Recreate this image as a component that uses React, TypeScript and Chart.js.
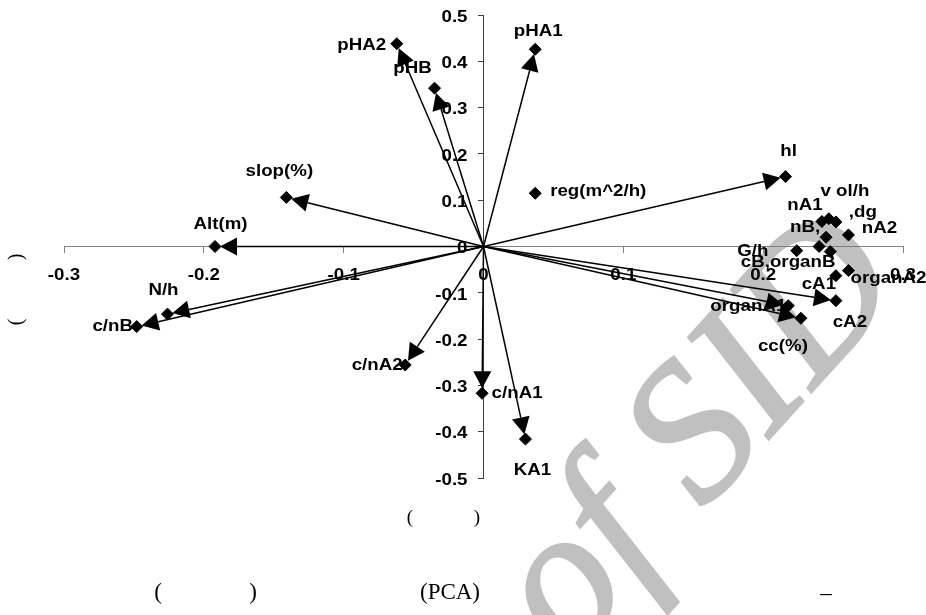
import React, { useEffect, useRef } from "react";
import { Chart, registerables } from "chart.js";

Chart.register(...registerables);

// Variable names (labels as printed) and their loadings on the two components
const varNames = [
  "pHA2", "pHB", "pHA1", "reg(m^2/h)", "hl", "slop(%)", "Alt(m)", "N/h", "c/nB",
  "c/nA2", "c/nA1", "KA1", "cA2", "cc(%)", "organA1", "cA1", "organA2", "nA2",
  ",dg", "v ol/h", "nA1", "nB,", "G/h", "cB,organB", "",
];
const pc1 = [
  -0.062, -0.035, 0.037, 0.037, 0.216, -0.141, -0.192, -0.226, -0.248,
  -0.056, -0.001, 0.030, 0.252, 0.227, 0.218, 0.252, 0.261, 0.261,
  0.252, 0.247, 0.242, 0.245, 0.224, 0.240, 0.248,
];
const pc2 = [
  0.438, 0.342, 0.426, 0.115, 0.151, 0.106, 0.0, -0.146, -0.173,
  -0.256, -0.317, -0.416, -0.117, -0.155, -0.128, -0.063, -0.052, 0.025,
  0.053, 0.060, 0.054, 0.020, -0.009, 0.0, -0.011,
];
const hasArrow = [
  true, true, true, false, true, true, true, true, true,
  true, true, true, true, true, true, false, false, false,
  false, false, false, false, false, false, false,
];
const xTicks = [-0.3, -0.2, -0.1, 0, 0.1, 0.2, 0.3];
const yTicks = [-0.5, -0.4, -0.3, -0.2, -0.1, 0, 0.1, 0.2, 0.3, 0.4, 0.5];

// label placement (pixel offsets of label centre from its point)
const labelOffsets: [number, number][] = [
  [-35, 1], [-22, -21], [3, -19], [63, -3], [3, -26], [-7, -27], [5.5, -23.5], [-4, -25], [-24, -1],
  [-28, -1], [35, -1], [7, 30], [14, 21], [-18, 27], [-40, 0], [-17, 8], [40, 7], [31, -7.5],
  [27, -11], [16, -28], [-17, -17], [-21, -11], [-44, 0], [-31, 15], [0, 0],
];

const SANS = '"Liberation Sans", Arial, sans-serif';
const SERIF = '"Liberation Serif", "Times New Roman", serif';
const STRETCH = 1.17;
const HALF_CAP = 5.7;

function drawStretched(ctx: CanvasRenderingContext2D, text: string, x: number, y: number, align: CanvasTextAlign) {
  ctx.save();
  ctx.translate(x, y);
  ctx.scale(STRETCH, 1);
  ctx.textAlign = align;
  ctx.textBaseline = "alphabetic";
  ctx.fillText(text, 0, 0);
  ctx.restore();
}

const backgroundPlugin = {
  id: "bgWatermark",
  beforeDraw(chart: any) {
    const ctx: CanvasRenderingContext2D = chart.ctx;
    ctx.save();
    ctx.fillStyle = "#ffffff";
    ctx.fillRect(0, 0, chart.width, chart.height);
    ctx.translate(570, 660);
    ctx.rotate((-48 * Math.PI) / 180);
    ctx.font = `italic 195px ${SERIF}`;
    ctx.fillStyle = "#c0c0c0";
    ctx.strokeStyle = "#c0c0c0";
    ctx.lineWidth = 3;
    ctx.textAlign = "left";
    ctx.textBaseline = "alphabetic";
    ctx.fillText("of SID", 0, 0);
    ctx.strokeText("of SID", 0, 0);
    ctx.restore();
  },
};

const arrowPlugin = {
  id: "arrows",
  beforeDatasetsDraw(chart: any) {
    const ctx: CanvasRenderingContext2D = chart.ctx;
    const xs = chart.scales.x;
    const ys = chart.scales.y;
    const ox = xs.getPixelForValue(0);
    const oy = ys.getPixelForValue(0);
    ctx.save();
    ctx.strokeStyle = "#000";
    ctx.fillStyle = "#000";
    ctx.lineWidth = 1.5;
    pc1.forEach((v, i) => {
      if (!hasArrow[i]) return;
      const px = xs.getPixelForValue(v);
      const py = ys.getPixelForValue(pc2[i]);
      const dx = px - ox;
      const dy = py - oy;
      const L = Math.hypot(dx, dy);
      const ux = dx / L;
      const uy = dy / L;
      const tx = px - ux * 5;
      const ty = py - uy * 5;
      const bx = tx - ux * 17;
      const by = ty - uy * 17;
      ctx.beginPath();
      ctx.moveTo(ox, oy);
      ctx.lineTo(bx, by);
      ctx.stroke();
      ctx.beginPath();
      ctx.moveTo(tx, ty);
      ctx.lineTo(bx - uy * 9, by + ux * 9);
      ctx.lineTo(bx + uy * 9, by - ux * 9);
      ctx.closePath();
      ctx.fill();
    });
    ctx.restore();
  },
};

const textPlugin = {
  id: "texts",
  afterDraw(chart: any) {
    const ctx: CanvasRenderingContext2D = chart.ctx;
    const xs = chart.scales.x;
    const ys = chart.scales.y;
    const ox = xs.getPixelForValue(0);
    const oy = ys.getPixelForValue(0);
    ctx.save();
    ctx.fillStyle = "#000";
    ctx.font = `bold 16px ${SANS}`;
    // tick labels
    xTicks.forEach((v) => {
      drawStretched(ctx, String(v), xs.getPixelForValue(v), oy + 27.6 + HALF_CAP, "center");
    });
    yTicks.forEach((v) => {
      drawStretched(ctx, String(v), ox - 16, ys.getPixelForValue(v) + 1 + HALF_CAP, "right");
    });
    // point labels
    varNames.forEach((name, i) => {
      if (!name) return;
      const px = xs.getPixelForValue(pc1[i]);
      const py = ys.getPixelForValue(pc2[i]);
      const [dx, dy] = labelOffsets[i];
      drawStretched(ctx, name, px + dx, py + dy + HALF_CAP, "center");
    });
    // axis titles / caption (text lost in the original, only brackets remain)
    ctx.textAlign = "center";
    ctx.textBaseline = "middle";
    ctx.font = `20px ${SERIF}`;
    ctx.save();
    ctx.translate(17, 322);
    ctx.rotate(-Math.PI / 2);
    ctx.fillText("(", 0, 0);
    ctx.restore();
    ctx.save();
    ctx.translate(17, 257);
    ctx.rotate(-Math.PI / 2);
    ctx.fillText(")", 0, 0);
    ctx.restore();
    ctx.font = `19px ${SERIF}`;
    ctx.fillText("(", 410, 518);
    ctx.fillText(")", 477, 518);
    ctx.font = `23px ${SERIF}`;
    ctx.fillText("(", 158, 593);
    ctx.fillText(")", 253, 593);
    ctx.fillText("(PCA)", 450, 593);
    ctx.fillText("\u2013", 826, 594);
    ctx.restore();
  },
};

export default function App() {
  const canvasRef = useRef<HTMLCanvasElement | null>(null);

  useEffect(() => {
    if (!canvasRef.current) return;
    const points = pc1.map((x, i) => ({ x, y: pc2[i] }));
    const chart = new Chart(canvasRef.current, {
      type: "scatter",
      data: {
        datasets: [
          {
            data: points,
            pointStyle: "rectRot",
            pointRadius: 6,
            pointHoverRadius: 6,
            backgroundColor: "#000",
            borderColor: "#000",
            borderWidth: 1,
          },
        ],
      },
      options: {
        responsive: false,
        animation: false,
        events: [],
        layout: { padding: { left: 64, right: 23, top: 15, bottom: 137 } },
        plugins: {
          legend: { display: false },
          tooltip: { enabled: false },
          title: { display: false },
        },
        scales: {
          x: {
            type: "linear",
            min: -0.3,
            max: 0.3,
            position: { y: 0 },
            afterBuildTicks: (s: any) => {
              s.ticks = xTicks.map((value) => ({ value }));
            },
            ticks: { display: false },
            grid: { display: true, drawOnChartArea: false, drawTicks: true, tickLength: 6, color: "#808080" },
            border: { display: true, color: "#808080", width: 1 },
          },
          y: {
            type: "linear",
            min: -0.5,
            max: 0.5,
            position: { x: 0 },
            afterBuildTicks: (s: any) => {
              s.ticks = yTicks.map((value) => ({ value }));
            },
            ticks: { display: false },
            grid: { display: true, drawOnChartArea: false, drawTicks: true, tickLength: 5, color: "#404040" },
            border: { display: true, color: "#404040", width: 1 },
          },
        },
      } as any,
      plugins: [backgroundPlugin, arrowPlugin, textPlugin],
    });
    return () => chart.destroy();
  }, []);

  return (
    <div style={{ position: "fixed", left: 0, top: 0, width: 926, height: 615, background: "#fff" }}>
      <canvas ref={canvasRef} width={926} height={615} style={{ display: "block" }} />
    </div>
  );
}
